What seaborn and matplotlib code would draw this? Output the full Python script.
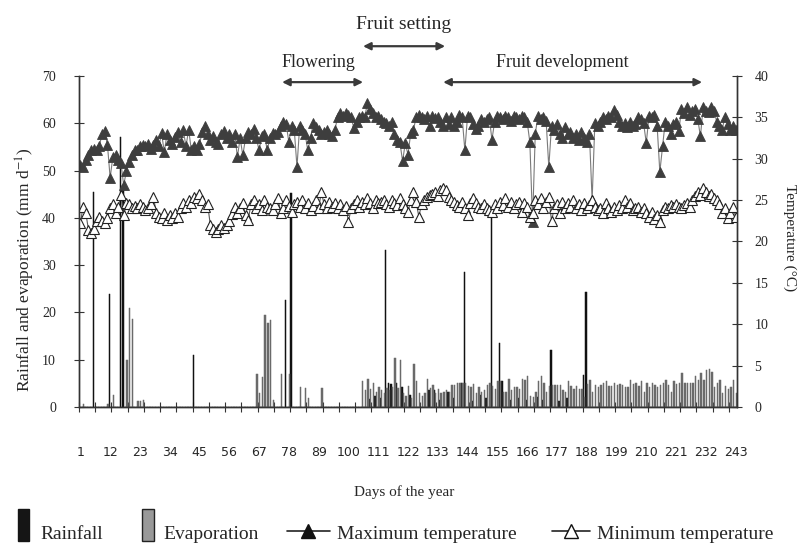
import numpy as np
import pandas as pd
import matplotlib
matplotlib.use("Agg")
import matplotlib.pyplot as plt
import seaborn as sns
from matplotlib.patches import Rectangle
from matplotlib.lines import Line2D

# Days of the year
days = np.arange(1, 244)

# Rainfall (mm/day), only the rainy days
rain_days = [6, 12, 16, 17, 43, 77, 79, 108, 110, 112, 114, 115, 116, 118, 120,
             123, 130, 132, 134, 137, 139, 142, 143, 146, 149, 151, 153, 156, 157,
             160, 163, 166, 170, 172, 175, 178, 181, 187, 188]
rain_mm = [45.5, 24.0, 57.0, 47.0, 11.0, 22.6, 45.3, 1.6, 2.3, 1.8, 33.2, 5.0, 4.9, 5.0, 4.3,
           2.5, 3.7, 3.6, 1.5, 3.2, 2.0, 5.0, 28.6, 1.2, 2.5, 1.8, 41.0, 13.5, 5.4,
           1.5, 2.0, 1.5, 2.2, 1.5, 12.0, 1.2, 2.0, 6.8, 24.4]

# Evaporation (mm/day) before day 105, sparse
evap_early_days = [2, 11, 13, 18, 19, 20, 22, 23, 24, 66, 67, 68, 69, 70, 71, 72,
                   75, 78, 82, 84, 85, 90]
evap_early_mm = [0.7, 0.7, 2.5, 10.0, 21.0, 18.6, 1.2, 1.2, 1.5, 7.0, 3.0, 6.3, 19.4,
                 17.7, 18.4, 1.5, 7.0, 7.0, 4.2, 4.0, 2.0, 4.1]

# Evaporation (mm/day) days 105-243
evap_late = [5.4, 3.5, 6.0, 3.8, 5.1, 3.2, 4.3, 3.5, 3.0, 4.0,
             3.5, 4.2, 10.3, 4.0, 9.9, 3.0, 2.3, 4.4, 2.0, 9.0,
             5.4, 3.0, 2.3, 3.0, 6.0, 4.0, 4.6, 3.0, 3.9, 3.0,
             3.2, 3.5, 3.2, 4.6, 4.6, 5.0, 5.1, 5.0, 5.0, 4.4,
             4.3, 4.9, 2.9, 4.3, 3.2, 3.6, 4.6, 5.1, 4.5, 3.9,
             5.4, 5.4, 3.2, 3.2, 6.0, 3.5, 4.3, 4.3, 3.9, 6.0,
             5.7, 6.5, 2.3, 2.2, 3.2, 5.4, 6.5, 5.0, 3.2, 4.4,
             4.6, 4.6, 4.6, 4.6, 3.6, 3.2, 5.4, 4.4, 3.9, 4.5,
             3.9, 3.9, 2.2, 4.9, 5.7, 3.2, 4.6, 4.3, 4.6, 5.0,
             5.4, 4.4, 4.4, 5.0, 4.6, 4.9, 4.6, 4.3, 4.2, 5.7,
             4.9, 5.1, 4.4, 5.4, 3.2, 5.0, 4.2, 5.0, 4.6, 4.3,
             4.6, 5.0, 5.7, 4.6, 3.2, 5.4, 4.9, 5.0, 7.1, 5.1,
             5.0, 5.1, 5.0, 6.5, 5.7, 7.1, 5.8, 7.8, 8.0, 7.5,
             4.3, 5.0, 5.7, 3.0, 4.5, 3.8, 4.2, 5.7, 3.0]

# Maximum temperature (C)
tmax = [29.2, 29.0, 29.8, 30.5, 31.0, 31.2, 31.0, 31.5, 33.0, 33.3,
        31.7, 27.7, 30.2, 30.5, 29.8, 29.5, 26.8, 28.5, 29.6, 30.4,
        31.0, 31.0, 31.5, 31.7, 31.6, 31.8, 31.2, 31.7, 32.3, 31.5,
        33.1, 30.8, 33.0, 32.3, 31.8, 32.6, 33.2, 32.0, 33.5, 31.5,
        33.5, 31.0, 31.5, 31.0, 31.8, 33.2, 34.0, 33.0, 32.3, 32.8,
        32.0, 31.8, 33.0, 33.3, 32.5, 33.0, 32.0, 33.0, 30.2, 32.5,
        30.4, 32.5, 33.2, 33.0, 33.6, 32.5, 31.0, 32.8, 33.0, 31.0,
        32.5, 33.1, 33.0, 33.2, 34.0, 34.5, 34.2, 32.0, 34.0, 33.5,
        29.0, 34.0, 33.5, 33.0, 31.0, 32.5, 34.3, 33.8, 33.5, 33.0,
        33.2, 33.5, 33.0, 32.8, 33.5, 35.0, 35.5, 35.2, 35.5, 35.3,
        35.0, 33.7, 34.5, 35.0, 35.2, 35.0, 36.7, 36.0, 35.5, 35.0,
        35.2, 34.8, 34.5, 34.3, 34.0, 34.5, 33.0, 32.3, 32.0, 29.7,
        31.9, 30.5, 33.1, 33.5, 35.0, 35.3, 35.0, 34.8, 35.2, 34.0,
        35.2, 34.9, 35.0, 34.5, 33.9, 35.0, 34.2, 35.0, 33.9, 34.5,
        35.3, 35.0, 31.0, 35.2, 35.0, 34.2, 33.6, 34.0, 34.8, 34.5,
        34.8, 35.0, 32.3, 34.5, 35.2, 35.0, 34.8, 35.2, 35.0, 34.6,
        35.2, 35.0, 34.8, 35.2, 35.0, 34.5, 32.0, 22.4, 33.0, 35.2,
        34.8, 35.0, 34.6, 29.0, 34.0, 33.5, 34.2, 33.0, 32.5, 33.8,
        33.0, 33.2, 32.5, 33.0, 32.3, 33.2, 32.5, 32.0, 33.0, 25.0,
        34.3, 34.0, 34.5, 35.0, 34.8, 35.2, 35.0, 35.9, 35.3, 34.5,
        34.0, 34.3, 33.8, 34.5, 34.0, 34.2, 35.0, 34.8, 34.3, 31.9,
        35.2, 35.0, 35.3, 34.0, 28.4, 31.5, 34.5, 34.0, 33.0, 34.2,
        34.5, 33.3, 36.0, 35.5, 36.3, 35.3, 35.8, 36.0, 34.8, 32.7,
        36.3, 35.8, 35.7, 36.2, 35.8, 34.5, 34.0, 33.5, 35.0, 34.2,
        33.5, 34.0, 33.5]

# Minimum temperature (C)
tmin = [22.2, 24.2, 23.5, 21.4, 21.0, 21.5, 22.5, 23.0, 22.5, 22.2,
        22.8, 24.0, 24.5, 23.5, 24.2, 25.6, 23.2, 24.6, 24.5, 24.0,
        24.3, 24.0, 24.5, 24.2, 23.8, 24.0, 24.5, 25.4, 23.5, 23.0,
        22.8, 23.4, 22.6, 23.2, 22.8, 23.5, 23.0, 24.0, 24.6, 24.2,
        25.0, 24.6, 25.4, 25.2, 25.8, 25.0, 24.2, 24.5, 22.0, 21.5,
        21.2, 21.5, 22.0, 21.6, 22.0, 22.5, 23.3, 24.2, 23.5, 24.0,
        24.6, 23.2, 22.6, 24.5, 25.0, 24.0, 24.5, 23.8, 25.0, 24.2,
        24.0, 23.8, 24.5, 25.2, 23.5, 24.0, 25.0, 24.3, 23.6, 24.5,
        24.8, 24.2, 25.0, 24.0, 24.6, 23.8, 24.3, 25.0, 24.0, 26.0,
        24.5, 24.0, 24.8, 24.2, 24.6, 24.0, 24.5, 23.8, 24.3, 22.4,
        24.0, 24.5, 25.0, 24.2, 24.8, 24.5, 25.2, 24.6, 24.0, 25.0,
        24.6, 24.8, 25.0, 24.5, 24.2, 25.0, 24.6, 24.4, 25.2, 24.5,
        24.0, 23.6, 25.0, 26.0, 24.8, 23.0, 24.5, 25.0, 25.4, 25.6,
        25.8, 26.0, 25.5, 26.2, 26.5, 26.2, 25.4, 25.0, 24.8, 24.4,
        24.2, 24.8, 24.0, 23.2, 24.6, 25.2, 24.6, 24.2, 24.0, 24.5,
        24.0, 23.8, 23.6, 24.5, 24.0, 24.8, 24.4, 25.2, 24.2, 24.8,
        24.0, 24.5, 24.8, 23.6, 24.6, 24.2, 23.0, 23.5, 25.0, 24.5,
        25.2, 24.0, 24.8, 25.4, 22.5, 24.0, 24.5, 23.5, 24.8, 24.0,
        24.7, 24.2, 25.0, 24.0, 24.5, 23.8, 24.6, 24.0, 24.4, 25.0,
        24.2, 23.8, 24.0, 23.5, 24.6, 24.0, 23.6, 24.2, 23.8, 24.4,
        24.0, 25.0, 24.2, 24.6, 23.8, 24.0, 24.2, 23.6, 24.0, 23.4,
        23.0, 23.6, 22.7, 23.2, 22.4, 23.8, 24.2, 24.0, 24.4, 24.2,
        24.5, 24.2, 24.0, 24.4, 24.6, 24.2, 25.0, 25.5, 26.0, 25.6,
        26.5, 26.0, 25.5, 25.8, 25.2, 25.0, 24.5, 23.5, 24.0, 22.8,
        23.5, 24.2, 23.0]

label_days = list(range(1, 244, 11))

# Build daily series
rain = np.zeros(len(days))
rain[np.array(rain_days) - 1] = rain_mm
evap = np.zeros(len(days))
evap[np.array(evap_early_days) - 1] = evap_early_mm
evap[104:] = evap_late

bars = pd.DataFrame({
    "Day": np.concatenate([days, days]),
    "Value": np.concatenate([rain, evap]),
    "Series": ["Rainfall"] * len(days) + ["Evaporation"] * len(days),
})

sns.set_style("ticks")
plt.rcParams["font.family"] = ["Liberation Serif", "DejaVu Serif"]
plt.rcParams["mathtext.fontset"] = "stix"

W, H = 803, 547
fig = plt.figure(figsize=(W / 100, H / 100), dpi=100)
ax = fig.add_axes([79 / W, 1 - 407 / H, 658 / W, 331 / H])

sns.barplot(data=bars, x="Day", y="Value", hue="Series", native_scale=True,
            palette={"Rainfall": "#111111", "Evaporation": "#6a6a6a"},
            width=1.0, errorbar=None, linewidth=0.35, legend=False, ax=ax)
# bars are only about a pixel wide, so give them a matching outline
for p in ax.patches:
    p.set_edgecolor(p.get_facecolor())

ax2 = ax.twinx()
sns.lineplot(x=days, y=tmax, ax=ax2, color="#7a7a7a", lw=0.8, marker="^",
             markersize=7, markerfacecolor="#3e3e3e", markeredgecolor="#3e3e3e",
             markeredgewidth=0.6)
sns.lineplot(x=days, y=tmin, ax=ax2, color="#5a5a5a", lw=0.8, marker="^",
             markersize=6.5, markerfacecolor="white", markeredgecolor="#222222",
             markeredgewidth=0.8)

# axes
ax.set_xlim(0.5, 243.5)
ax.set_ylim(0, 70)
ax2.set_ylim(0, 40)
ax.set_yticks(range(0, 71, 10))
ax2.set_yticks(range(0, 41, 5))
ax.set_xticks(np.arange(0.5, 244, 6))
ax.set_xticklabels([])
ax.set_xticks(label_days, labels=[str(d) for d in label_days], minor=True)
ax.set_xlabel("")
ax.set_ylabel("")
ax2.set_ylabel("")
ax2.set_xlabel("")

for a in (ax, ax2):
    a.spines["top"].set_visible(False)
    for s in a.spines.values():
        s.set_color("#333333")
        s.set_linewidth(1.0)
ax.tick_params(axis="y", direction="inout", length=7, pad=13, labelsize=10, color="#333333")
ax2.tick_params(axis="y", direction="inout", length=7, pad=9, labelsize=10, color="#333333")
ax.tick_params(axis="x", which="major", direction="inout", length=7, color="#333333")
ax.tick_params(axis="x", which="minor", length=0, pad=28, labelsize=9)
for t in ax.get_xticklabels(minor=True):
    t.set_fontfamily(["Liberation Sans Narrow", "DejaVu Sans"])

# growth stage arrows
arrow = dict(arrowstyle="<|-|>", color="#3a3a3a", lw=1.6, mutation_scale=11,
             shrinkA=0, shrinkB=0)
ax.annotate("", xy=(105.4, 68.7), xytext=(75.5, 68.7), arrowprops=arrow,
            annotation_clip=False)
ax.annotate("", xy=(135.7, 76.3), xytext=(105.4, 76.3), arrowprops=arrow,
            annotation_clip=False)
ax.annotate("", xy=(230.6, 68.7), xytext=(135.0, 68.7), arrowprops=arrow,
            annotation_clip=False)
ax.text(88.8, 71.0, "Flowering", ha="center", va="bottom", fontsize=13, clip_on=False)
ax.text(120.5, 79.0, "Fruit setting", ha="center", va="bottom", fontsize=14, clip_on=False)
ax.text(178.9, 71.0, "Fruit development", ha="center", va="bottom", fontsize=13, clip_on=False)

# axis titles
fig.text(25 / W, 1 - 270 / H, "Rainfall and evaporation (mm d$^{-1}$)", rotation=90,
         ha="center", va="center", fontsize=12.5)
fig.text(790 / W, 1 - 238 / H, "Temperature (°C)", rotation=270,
         ha="center", va="center", fontsize=11)
fig.text(404 / W, 1 - 492 / H, "Days of the year", ha="center", va="center", fontsize=11)

# legend
fig.add_artist(Rectangle((18 / W, 1 - 541 / H), 11 / W, 32 / H, transform=fig.transFigure,
                         facecolor="#151515", edgecolor="#151515"))
fig.add_artist(Rectangle((142 / W, 1 - 541 / H), 12 / W, 32 / H, transform=fig.transFigure,
                         facecolor="#999999", edgecolor="#222222", lw=1))
fig.add_artist(Line2D([287 / W, 330 / W], [1 - 531 / H] * 2, transform=fig.transFigure,
                      color="#222222", lw=1.2))
fig.add_artist(Line2D([308.5 / W], [1 - 531 / H], transform=fig.transFigure, marker="^",
                      markersize=10, color="#111111"))
fig.add_artist(Line2D([552 / W, 590 / W], [1 - 531 / H] * 2, transform=fig.transFigure,
                      color="#222222", lw=1.2))
fig.add_artist(Line2D([571 / W], [1 - 531 / H], transform=fig.transFigure, marker="^",
                      markersize=10, markerfacecolor="white", markeredgecolor="#111111"))
for x, s in [(40, "Rainfall"), (163, "Evaporation"), (337, "Maximum temperature"),
             (597, "Minimum temperature")]:
    fig.text(x / W, 1 - 539 / H, s, ha="left", va="baseline", fontsize=14)

fig.savefig("out.png", dpi=100)
